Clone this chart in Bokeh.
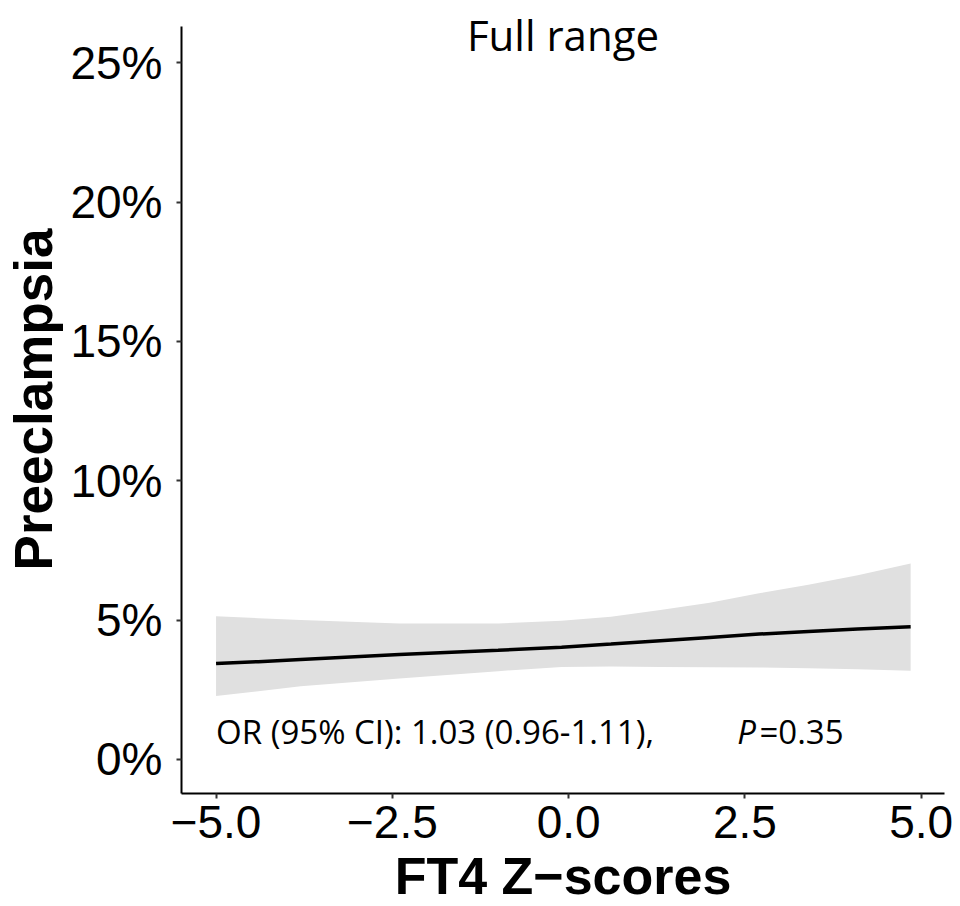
from bokeh.plotting import figure
from bokeh.models import Range1d, FixedTicker, PrintfTickFormatter, CustomJSTickFormatter, Label
from bokeh.embed import file_html
from bokeh.resources import INLINE

# Data (percent units)
z_scores = [-5.0, -4.4, -3.8, -2.4, -1.0, -0.1, 0.6, 1.3, 2.0, 2.7, 3.4, 4.1, 4.85]
fit_pct = [3.44, 3.51, 3.59, 3.77, 3.92, 4.03, 4.14, 4.26, 4.38, 4.50, 4.59, 4.68, 4.76]
upper_pct = [5.14, 5.07, 5.00, 4.88, 4.88, 4.98, 5.12, 5.36, 5.62, 5.96, 6.27, 6.61, 7.03]
lower_pct = [2.28, 2.45, 2.63, 2.91, 3.17, 3.32, 3.34, 3.32, 3.31, 3.30, 3.27, 3.24, 3.18]

y_ticks = [0, 5, 10, 15, 20, 25]
x_ticks = [-5.0, -2.5, 0.0, 2.5, 5.0]

title_text = "Full range"
or_text = "OR (95% CI): 1.03 (0.96-1.11),"
p_letter = "P"
p_value_text = "=0.35"

Y_LO, Y_AXIS_TOP, Y_FRAME_TOP = -1.22, 26.29, 27.05

p = figure(frame_width=763, frame_height=788,
           x_range=Range1d(-5.49, 5.33), y_range=Range1d(Y_LO, Y_FRAME_TOP),
           output_backend="svg", toolbar_location=None,
           min_border_left=181, min_border_top=5, min_border_right=16, min_border_bottom=100)

p.outline_line_color = None
p.xgrid.grid_line_color = None
p.ygrid.grid_line_color = None
p.background_fill_color = "white"
p.border_fill_color = "white"

p.varea(x=z_scores, y1=lower_pct, y2=upper_pct, fill_color="#e0e0e0", fill_alpha=1.0)
p.line(x=z_scores, y=fit_pct, line_color="black", line_width=3.5)

for ax in (p.xaxis[0], p.yaxis[0]):
    ax.axis_line_color = "black"
    ax.axis_line_width = 2
    ax.major_tick_line_color = "#333333"
    ax.major_tick_line_width = 2
    ax.major_tick_in = 0
    ax.major_tick_out = 5
    ax.minor_tick_line_color = None
    ax.major_label_text_font = "Liberation Sans"
    ax.major_label_text_font_size = "46px"
    ax.major_label_text_color = "black"
    ax.axis_label_text_font = "Liberation Sans"
    ax.axis_label_text_font_style = "bold"
    ax.axis_label_text_color = "black"

p.xaxis.ticker = FixedTicker(ticks=x_ticks)
p.xaxis.formatter = CustomJSTickFormatter(code="return (tick < 0 ? '\u2212' : '') + Math.abs(tick).toFixed(1);")
p.xaxis.major_label_standoff = 7
p.xaxis.axis_label = "FT4 Z\u2212scores"
p.xaxis.axis_label_text_font_size = "52px"
p.xaxis.axis_label_standoff = 6

p.yaxis.ticker = FixedTicker(ticks=y_ticks)
p.yaxis.formatter = PrintfTickFormatter(format="%d%%")
p.yaxis.bounds = (Y_LO, Y_AXIS_TOP)
p.yaxis.major_label_standoff = 14
p.yaxis.axis_label = "Preeclampsia"
p.yaxis.axis_label_text_font_size = "53px"
p.yaxis.axis_label_standoff = 4

p.add_layout(Label(x=-0.08, y=26.02, text=title_text, text_align="center", text_baseline="alphabetic",
                   text_font="Open Sans", text_font_size="42px", text_color="black"))
p.add_layout(Label(x=-5.0, y=1.01, text=or_text, text_align="left", text_baseline="alphabetic",
                   text_font="Open Sans", text_font_size="33px", text_color="black"))
p.add_layout(Label(x=2.39, y=1.01, text=p_letter, text_align="left", text_baseline="alphabetic",
                   text_font="Open Sans", text_font_style="italic", text_font_size="33px", text_color="black"))
p.add_layout(Label(x=2.705, y=1.01, text=p_value_text, text_align="left", text_baseline="alphabetic",
                   text_font="Open Sans", text_font_size="33px", text_color="black"))

open("out.html", "w").write(file_html(p, INLINE))
